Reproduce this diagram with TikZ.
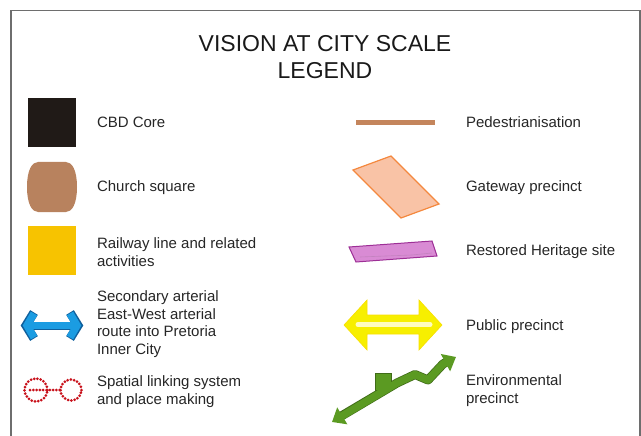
\documentclass[tikz,border=0pt]{standalone}
\usepackage{fontspec}
\setmainfont{Liberation Sans}
\usetikzlibrary{arrows.meta}
\definecolor{frame}{HTML}{6E6E6E}
\definecolor{cbd}{HTML}{201A17}
\definecolor{church}{HTML}{B8825E}
\definecolor{rail}{HTML}{F7C300}
\definecolor{artblue}{HTML}{1B9CE2}
\definecolor{artedge}{HTML}{0F5F9C}
\definecolor{linkred}{HTML}{C8101A}
\definecolor{pedbar}{HTML}{C4855C}
\definecolor{gatefill}{HTML}{F9C3A6}
\definecolor{gateedge}{HTML}{F4883E}
\definecolor{herfill}{HTML}{D98BD4}
\definecolor{heredge}{HTML}{9D2F96}
\definecolor{pubyellow}{HTML}{F7EF00}
\definecolor{envgreen}{HTML}{5B9A22}
\begin{document}
\begin{tikzpicture}[
 x=1pt,y=-1pt,
 every node/.style={inner sep=0pt,outer sep=0pt},
 legtitle/.style={align=center,font=\fontsize{23}{27}\selectfont,text=black!90},
 legtext/.style={anchor=base west,align=left,font=\fontsize{15}{17.5}\selectfont,text=black!85},
 swatch/.style={minimum width=48pt,minimum height=49pt,anchor=north west},
 linkdots/.style={draw=linkred,line width=3pt,line cap=round,dash pattern=on 0pt off 3.3pt}]
\useasboundingbox (0,0) rectangle (641,436);
\draw[frame,line width=1.2pt] (11,436) -- (11,10.5) -- (640,10.5) -- (640,436);
\node[legtitle] (title) at (325,57) {VISION AT CITY SCALE\\LEGEND};
% left column
\node[swatch,fill=cbd] (cbd) at (28,98) {};
\node[legtext] (cbdtext) at (97,128) {CBD Core};
\fill[church] (38,162) -- (66,162) .. controls (72,162) and (77,170) .. (77,187)
 .. controls (77,204) and (72,212) .. (66,212) -- (38,212)
 .. controls (32,212) and (27,204) .. (27,187) .. controls (27,170) and (32,162) .. (38,162) -- cycle;
\node[legtext] (churchtext) at (97,191) {Church square};
\node[swatch,fill=rail] (rail) at (28,226) {};
\node[legtext] (railtext) at (97,266) {Railway line and related\\activities};
\draw[artedge,line width=9pt,miter limit=4] (34,312.5) -- (26,325.5) -- (34,338.5);
\draw[artedge,line width=9pt,miter limit=4] (70,312.5) -- (78,325.5) -- (70,338.5);
\draw[artedge,line width=8pt] (30,325.5) -- (74,325.5);
\draw[artblue,line width=7.4pt,miter limit=4] (34,313.5) -- (27,325.5) -- (34,337.5);
\draw[artblue,line width=7.4pt,miter limit=4] (70,313.5) -- (77,325.5) -- (70,337.5);
\draw[artblue,line width=6.4pt] (31,325.5) -- (73,325.5);
\node[legtext] (arttext) at (97,354) {Secondary arterial\\East-West arterial\\route into Pretoria\\Inner City};
\draw[linkdots] (36,390) circle[radius=11.5pt];
\draw[linkdots] (71,390) circle[radius=10.5pt];
\draw[linkdots] (30,390) -- (60,390);
\node[legtext] (linktext) at (97,404) {Spatial linking system\\and place making};
% right column
\fill[pedbar] (356,120) rectangle (435,125.5);
\node[legtext] (pedtext) at (466,128) {Pedestrianisation};
\filldraw[fill=gatefill,draw=gateedge,line width=1.2pt] (353,170) -- (391,156) -- (439,204) -- (401,218) -- cycle;
\node[legtext] (gatetext) at (466,192) {Gateway precinct};
\filldraw[fill=herfill,draw=heredge,line width=1pt] (349,247) -- (432,241) -- (437,256) -- (356,262) -- cycle;
\draw[heredge!60,line width=.6pt] (360,257) -- (412,255) -- (432,253);
\node[legtext] (hertext) at (466,255) {Restored Heritage site};
\filldraw[fill=pubyellow,draw=pubyellow!85!orange,line width=.6pt] (344,325) -- (367,300) -- (367,315) -- (419,315) -- (419,300)
 -- (442,325) -- (419,350) -- (419,334) -- (367,334) -- (367,350) -- cycle;
\draw[yellow!25!white,line width=5pt,line cap=round] (358,324.5) -- (430,324.5);
\node[legtext] (pubtext) at (466,330) {Public precinct};
\filldraw[fill=envgreen,draw=envgreen!70!black,line width=.8pt] (375.5,373) rectangle (391.5,390);
\draw[envgreen!70!black,line width=9pt,line join=round] (338,418) -- (397,383) -- (415,374.5) -- (428,380) -- (443,364) -- (450,360);
\fill[envgreen] (376.3,373.8) rectangle (390.7,390);
\draw[envgreen,line width=7.5pt,line join=round,
 {Triangle[width=19pt,length=12pt]}-{Triangle[width=19pt,length=12pt]}]
 (332,422) -- (397,383) -- (415,374.5) -- (428,380) -- (443,364) -- (456,357);
\node[legtext] (envtext) at (466,403) {Environmental\\precinct};
\end{tikzpicture}
\end{document}
